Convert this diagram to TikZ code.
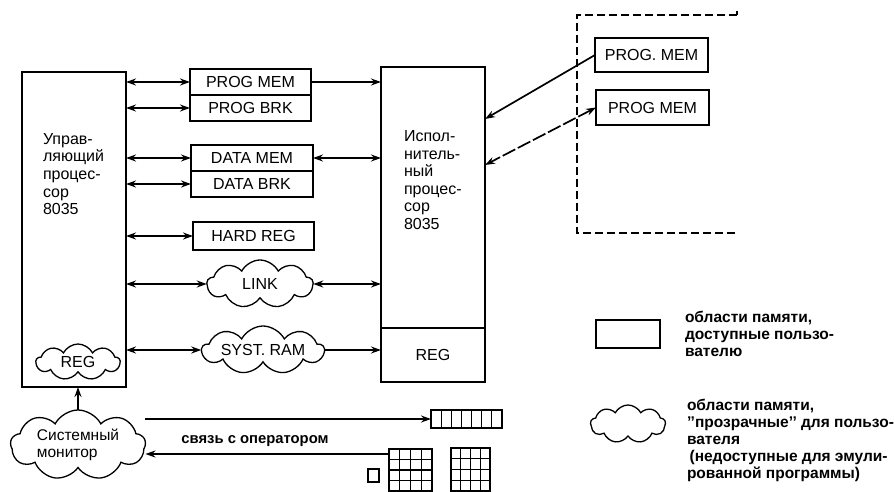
\documentclass[tikz,border=0pt]{standalone}
\usepackage{fontspec}
\setmainfont{Liberation Sans}
\usetikzlibrary{shapes.symbols,arrows.meta}

\begin{document}
\begin{tikzpicture}[x=1pt,y=-1pt,
  every node/.style={inner sep=0pt, outer sep=0pt},
  lbl/.style={font=\fontsize{16}{18}\selectfont},
  membox/.style={draw, line width=1.3pt, lbl},
  cpu/.style={draw, line width=1.3pt, minimum width=104, minimum height=315},
  cpulbl/.style={align=left, anchor=west, font=\fontsize{16}{17.6}\selectfont},
  puff/.style={cloud, draw, line width=1.3pt, cloud puffs=9, cloud puff arc=125,
               cloud ignores aspect, lbl},
  legend/.style={align=left, anchor=west, font=\bfseries\fontsize{15.5}{16.9}\selectfont},
  tip/.tip={Stealth[length=10pt,width=7pt]},
  bus/.style={line width=1.7pt, tip-tip},
  feed/.style={line width=1.7pt, -tip},
  cell/.style={line width=1.2pt}
]
\useasboundingbox (0,0) rectangle (894,492);

% control processor
\node[cpu] (lbox) at (74,229.5) {};
\node[cpulbl] (ltext) at (43,174)
  {Управ-\\ляющий\\процес-\\сор\\8035};
\node[puff, minimum width=84, minimum height=36] (creg) at (78,362) {REG};

% execution processor
\node[cpu] (ebox) at (433,224.5) {};
\draw[line width=1.3pt] (ebox.west |- 0,328) -- (ebox.east |- 0,328);
\node[lbl] (ereg) at (433,355) {REG};
\node[cpulbl] (etext) at (404,180)
  {Испол-\\нитель-\\ный\\процес-\\сор\\8035};

% shared memories
\node[membox, minimum width=121, minimum height=26] (pm) at (250.5,82) {PROG MEM};
\node[membox, minimum width=121, minimum height=26] (pb) at (250.5,108) {PROG BRK};
\node[membox, minimum width=122, minimum height=26] (dm) at (252,158) {DATA MEM};
\node[membox, minimum width=122, minimum height=26] (db) at (252,184) {DATA BRK};
\node[membox, minimum width=121, minimum height=28] (hr) at (253.5,236) {HARD REG};
\node[puff, minimum width=106, minimum height=48] (link) at (260,284) {LINK};
\node[puff, minimum width=122, minimum height=48] (sram) at (263,350) {SYST. RAM};

% control processor <-> memories
\foreach \m in {pm,pb,dm,db,hr,link,sram}
  \draw[bus] (lbox.east |- \m.west) -- (\m.west);

% memories -> execution processor
\draw[feed] (pm.east) -- (ebox.west |- pm.east);
\draw[bus]  (dm.east) -- (ebox.west |- dm.east);
\draw[bus]  (link.east) -- (ebox.west |- link.east);
\draw[feed] (sram.east) -- (ebox.west |- sram.east);

% external program memories
\draw[line width=1.3pt, dash pattern=on 8pt off 4pt]
  (737,15) -- (577,15) -- (577,233) -- (735,233);
\draw[line width=1.3pt] (737,11) -- (737,15);
\node[membox, minimum width=113, minimum height=34] (rpm1) at (651.5,55) {PROG. MEM};
\node[membox, minimum width=113, minimum height=35] (rpm2) at (652.5,107.5) {PROG MEM};
\coordinate (e1) at (485,119);
\coordinate (e2) at (485,165);
\draw[feed] (rpm1.west) -- (e1);
\draw[bus, dash pattern=on 14pt off 3pt] (rpm2.west) -- (e2);

% system monitor and operator terminal
\node[puff, minimum width=135, minimum height=70, align=left,
      font=\fontsize{15.5}{17}\selectfont] (mon) at (78,445)
  {Системный\\монитор};
\draw[feed] (mon.north) -- (mon.north |- lbox.south);

\node[draw, line width=1.2pt, minimum width=71, minimum height=18] (row) at (466.5,419) {};
\foreach \i in {1,...,6}
  \draw[cell] ({431+\i*71/7},410) -- ({431+\i*71/7},428);

\node[draw, line width=1.2pt, minimum width=43, minimum height=42] (g1) at (410.5,470) {};
\foreach \i in {1,2,3} {
  \draw[cell] ({389+\i*43/4},449) -- ({389+\i*43/4},491);
  \draw[cell] (389,{449+\i*42/4}) -- (432,{449+\i*42/4});
}
\node[draw, line width=1.2pt, minimum width=39, minimum height=43] (g2) at (470.5,469.5) {};
\foreach \i in {1,2,3} {
  \draw[cell] ({451+\i*39/4},448) -- ({451+\i*39/4},491);
  \draw[cell] (451,{448+\i*43/4}) -- (490,{448+\i*43/4});
}
\node[draw, line width=1.2pt, minimum width=11, minimum height=13] (sq) at (373.5,475.5) {};

\draw[feed] (row.west -| mon.east) -- (row.west);
\coordinate (g1w) at (389,454);
\draw[feed] (g1w) -- (g1w -| mon.east);
\node[font=\bfseries\fontsize{14.8}{16}\selectfont] (oplbl) at (255,441) {связь с оператором};

% legend
\node[draw, line width=1.3pt, minimum width=64, minimum height=28] (legbox) at (628,334) {};
\node[legend] (legtxt1) at (685,333.5)
  {области памяти,\\доступные пользо-\\вателю};
\node[puff, minimum width=75, minimum height=38] (legcloud) at (628,424) {};
\node[legend] (legtxt2) at (687,440.5)
  {области памяти,\\{'}{'}прозрачные{'}{'} для пользо-\\вателя\\\,(недоступные для эмули-\\рованной программы)};
\end{tikzpicture}
\end{document}
